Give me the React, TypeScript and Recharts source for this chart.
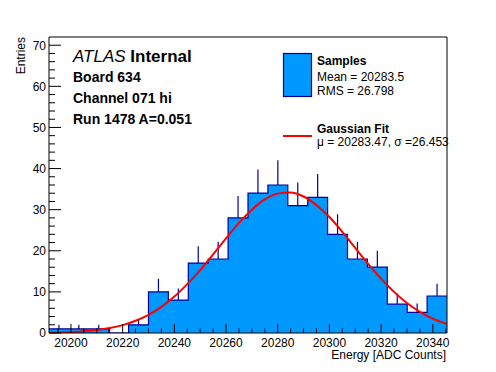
import {
  Area,
  ComposedChart,
  ErrorBar,
  Line,
  ReferenceLine,
  Scatter,
  XAxis,
  YAxis,
} from "recharts";

// bin edges (ADC counts), 20 bins
const binEdges = [
  20191.5, 20199.2, 20206.9, 20214.6, 20222.3, 20230.0, 20237.7, 20245.4,
  20253.1, 20260.8, 20268.5, 20276.2, 20283.9, 20291.6, 20299.3, 20307.0,
  20314.7, 20322.4, 20330.1, 20337.8, 20345.5,
];
const binCounts = [1, 1, 1, 0, 2, 10, 8, 17, 18, 28, 34, 36, 31, 33, 24, 18, 16, 7, 5, 9];
const binErrUp = [1, 1, 1, 0, 1.4, 3.2, 2.8, 4.1, 4.2, 5.3, 5.8, 6, 5.6, 5.7, 4.9, 4.2, 4, 2.6, 2.2, 3];

// gaussian fit curve
const fitX = [
  20191.5, 20195, 20200, 20205, 20210, 20215, 20220, 20225, 20230, 20235,
  20240, 20245, 20250, 20255, 20260, 20265, 20270, 20275, 20280, 20285,
  20290, 20295, 20300, 20305, 20310, 20315, 20320, 20325, 20330, 20335,
  20340, 20345.5,
];
const fitY = [
  0.08, 0.13, 0.23, 0.42, 0.72, 1.2, 1.92, 2.97, 4.42, 6.37, 8.85, 11.9, 15.3,
  19.1, 23.0, 26.8, 30.0, 32.5, 33.9, 34.2, 33.2, 31.1, 28.2, 24.6, 20.7, 16.8,
  13.2, 10.0, 7.3, 5.14, 3.5, 2.2,
];

const xTicks = [
  20195, 20200, 20205, 20210, 20215, 20220, 20225, 20230, 20235, 20240, 20245,
  20250, 20255, 20260, 20265, 20270, 20275, 20280, 20285, 20290, 20295, 20300,
  20305, 20310, 20315, 20320, 20325, 20330, 20335, 20340, 20345,
];
const xLabels = [20200, 20220, 20240, 20260, 20280, 20300, 20320, 20340];
const yTicks = [
  0, 2, 4, 6, 8, 10, 12, 14, 16, 18, 20, 22, 24, 26, 28, 30, 32, 34, 36, 38, 40,
  42, 44, 46, 48, 50, 52, 54, 56, 58, 60, 62, 64, 66, 68, 70,
];
const yLabels = [0, 10, 20, 30, 40, 50, 60, 70];

const FONT = "'Liberation Sans', Arial, Helvetica, sans-serif";
const FILL = "#0099ff";
const EDGE = "#000099";

const histData = binEdges.map((x, i) => ({
  x,
  n: binCounts[Math.min(i, binCounts.length - 1)],
}));
const errData = binCounts.map((n, i) => ({
  x: (binEdges[i] + binEdges[i + 1]) / 2,
  n,
  err: [0, binErrUp[i]],
}));
const fitData = fitX.map((x, i) => ({ x, y: fitY[i] }));

function XTick({ x, y, payload }: any) {
  const major = xLabels.includes(payload.value);
  return (
    <g>
      <line x1={x} x2={x} y1={y} y2={y - (major ? 9 : 4.5)} stroke="#000" />
      {major && (
        <text x={x} y={y + 13.5} textAnchor="middle" fontSize={12} fontFamily={FONT} fill="#000">
          {payload.value}
        </text>
      )}
    </g>
  );
}

function YTick({ x, y, payload }: any) {
  const major = yLabels.includes(payload.value);
  return (
    <g>
      <line x1={x} x2={x + (major ? 12 : 6)} y1={y} y2={y} stroke="#000" />
      {major && (
        <text x={x - 3} y={y + 4.3} textAnchor="end" fontSize={12} fontFamily={FONT} fill="#000">
          {payload.value}
        </text>
      )}
    </g>
  );
}

export default function App() {
  return (
    <div style={{ position: "absolute", left: 0, top: 0, width: 496, height: 372, background: "#fff" }}>
      <ComposedChart
        width={496}
        height={372}
        margin={{ top: 37, right: 49, bottom: 0, left: 0 }}
      >
        <Area
          data={histData}
          dataKey="n"
          type="stepAfter"
          baseValue={0}
          fill={FILL}
          fillOpacity={1}
          stroke={EDGE}
          strokeWidth={1.2}
          isAnimationActive={false}
        />
        <Scatter data={errData} dataKey="n" shape={() => <g />} isAnimationActive={false}>
          <ErrorBar dataKey="err" direction="y" width={0} stroke={EDGE} strokeWidth={1.2} />
        </Scatter>
        <Line
          data={fitData}
          dataKey="y"
          type="monotone"
          stroke="#ff0000"
          strokeWidth={2}
          dot={false}
          isAnimationActive={false}
        />
        <ReferenceLine y={72} stroke="#000" strokeWidth={1} />
        <ReferenceLine x={20345.5} stroke="#000" strokeWidth={1} />
        <XAxis
          dataKey="x"
          type="number"
          domain={[20191.5, 20345.5]}
          ticks={xTicks}
          interval={0}
          height={39}
          tickSize={0}
          tickMargin={0}
          tickLine={false}
          tick={XTick}
          axisLine={{ stroke: "#000" }}
          allowDataOverflow
        />
        <YAxis
          type="number"
          domain={[0, 72]}
          ticks={yTicks}
          interval={0}
          width={49}
          tickSize={0}
          tickMargin={0}
          tickLine={false}
          tick={YTick}
          axisLine={{ stroke: "#000" }}
          allowDataOverflow
        />
      </ComposedChart>
      <svg
        width={496}
        height={372}
        style={{ position: "absolute", left: 0, top: 0, pointerEvents: "none" }}
        fontFamily={FONT}
      >
        <text
          transform="translate(24.5,37) rotate(-90)"
          textAnchor="end"
          fontSize={12}
          fill="#000"
        >
          Entries
        </text>
        <text x={446} y={359} textAnchor="end" fontSize={12} fill="#000">
          Energy [ADC Counts]
        </text>

        <text x={73} y={62} fontSize={17} fill="#000">
          <tspan fontStyle="italic">ATLAS</tspan>
          <tspan fontWeight="bold"> Internal</tspan>
        </text>
        <text x={73} y={82} fontSize={14} fontWeight="bold" fill="#000">Board 634</text>
        <text x={73} y={103} fontSize={14} fontWeight="bold" fill="#000">Channel 071 hi</text>
        <text x={73} y={124} fontSize={14} fontWeight="bold" fill="#000">Run 1478 A=0.051</text>

        <rect x={283.5} y={53.5} width={28} height={43} fill={FILL} stroke={EDGE} strokeWidth={1.2} />
        <text x={317} y={65} fontSize={12} fontWeight="bold" fill="#000">Samples</text>
        <text x={317} y={80.5} fontSize={12} fill="#000">Mean = 20283.5</text>
        <text x={317} y={94.5} fontSize={12} fill="#000">RMS = 26.798</text>

        <line x1={283} x2={312} y1={136} y2={136} stroke="#ff0000" strokeWidth={2} />
        <text x={317} y={132.5} fontSize={12} fontWeight="bold" fill="#000">Gaussian Fit</text>
        <text x={317} y={146} fontSize={12} fill="#000">μ = 20283.47, σ =26.453</text>
      </svg>
    </div>
  );
}
